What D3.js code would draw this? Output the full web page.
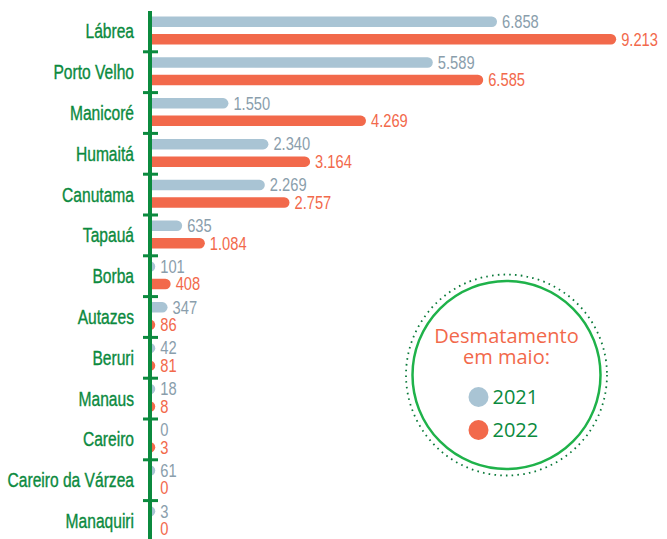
<!DOCTYPE html>
<html>
<head>
<meta charset="utf-8">
<script src="https://cdn.jsdelivr.net/npm/d3@7"></script>
<style>
  html, body { margin: 0; padding: 0; background: #fff; }
  #chart { width: 667px; height: 539px; }
</style>
</head>
<body>
<div id="chart"></div>
<script>
// Desmatamento em maio, 2021 x 2022, por município
const categories = ['Lábrea','Porto Velho','Manicoré','Humaitá','Canutama','Tapauá','Borba','Autazes','Beruri','Manaus','Careiro','Careiro da Várzea','Manaquiri'];
const years = ['2021','2022'];
const values2021 = [6858, 5589, 1550, 2340, 2269, 635, 101, 347, 42, 18, 0, 61, 3];
const values2022 = [9213, 6585, 4269, 3164, 2757, 1084, 408, 86, 81, 8, 3, 0, 0];

(function(){
  const w = 667, h = 539;
  // no condensed face installed: squeeze Liberation Sans horizontally
  const narrow = '"Liberation Sans", Arial, sans-serif';
  const green = '#0b8a3e', blue = '#a9c4d4', red = '#f2694b', blueText = '#8a9eac';

  const fmt = d3.formatLocale({decimal: ',', thousands: '.', grouping: [3], currency: ['', '']}).format(',d');
  const color = d3.scaleOrdinal().domain(years).range([blue, red]);
  const textColor = d3.scaleOrdinal().domain(years).range([blueText, red]);

  const svg = d3.select('#chart').append('svg').attr('width', w).attr('height', h);

  const axisX = 150;
  const x = d3.scaleLinear().domain([0, 10000]).range([axisX, axisX + 506]);
  const y = d3.scaleBand().domain(categories).range([11, 11 + 13 * 40.8]);
  const ySub = d3.scaleBand().domain(years).range([2, 37]);
  const barH = 10.5, r = barH / 2;

  const rows = categories.map((c, i) => ({cat: c, vals: [
    {year: '2021', value: values2021[i]},
    {year: '2022', value: values2022[i]}
  ]}));

  // bars with rounded right end
  function barPath(v) {
    const end = Math.max(x(v), axisX + r);
    const body = end - r;
    return `M${axisX},${-r}H${body}A${r},${r} 0 0 1 ${body},${r}H${axisX}Z`;
  }

  const g = svg.selectAll('g.row').data(rows).enter().append('g')
    .attr('class', 'row')
    .attr('transform', d => `translate(0,${y(d.cat)})`);

  const item = g.selectAll('g.item').data(d => d.vals).enter().append('g')
    .attr('transform', d => `translate(0,${ySub(d.year) + ySub.bandwidth() / 2})`);

  item.filter(d => d.value > 0).append('path')
    .attr('d', d => barPath(d.value))
    .attr('fill', d => color(d.year));

  item.append('text')
    .attr('transform', d => `translate(${Math.max(x(d.value), axisX + r) + 5},0) scale(0.84,1)`)
    .attr('dy', '0.36em')
    .attr('font-family', narrow)
    .attr('font-size', '17.5px')
    .attr('fill', d => textColor(d.year))
    .text(d => fmt(d.value));

  // category labels
  svg.selectAll('text.cat').data(categories).enter().append('text')
    .attr('class', 'cat')
    .attr('transform', d => `translate(134,${y(d) + y.bandwidth() / 2}) scale(0.8,1)`)
    .attr('dy', '0.36em')
    .attr('text-anchor', 'end')
    .attr('font-family', narrow)
    .attr('font-size', '19.5px')
    .attr('fill', green)
    .attr('stroke', green).attr('stroke-width', 0.35)
    .text(d => d);

  // axis line + ticks
  svg.append('line').attr('x1', axisX).attr('x2', axisX).attr('y1', 11).attr('y2', h)
    .attr('stroke', green).attr('stroke-width', 4);
  svg.selectAll('line.tick').data(categories.slice(1)).enter().append('line')
    .attr('class', 'tick')
    .attr('x1', axisX - 7).attr('x2', axisX + 8)
    .attr('y1', d => y(d)).attr('y2', d => y(d))
    .attr('stroke', green).attr('stroke-width', 3);

  // legend
  const lg = svg.append('g').attr('transform', 'translate(506.5,375)');
  lg.append('circle').attr('r', 100.5).attr('fill', 'none')
    .attr('stroke', '#0b7a3a').attr('stroke-width', 1.8).attr('stroke-dasharray', '1.6 4.2');
  lg.append('circle').attr('r', 94).attr('fill', '#fff')
    .attr('stroke', '#1fb24a').attr('stroke-width', 2.5);
  lg.append('text').attr('y', -32).attr('text-anchor', 'middle')
    .attr('font-family', '"Open Sans", sans-serif').attr('font-size', '20px').attr('fill', red)
    .text('Desmatamento');
  lg.append('text').attr('y', -11).attr('text-anchor', 'middle')
    .attr('font-family', '"Open Sans", sans-serif').attr('font-size', '20px').attr('fill', red)
    .text('em maio:');
  const li = lg.selectAll('g.li').data(years).enter().append('g')
    .attr('transform', (d, i) => `translate(0,${22 + i * 33})`);
  li.append('circle').attr('cx', -28).attr('r', 10).attr('fill', d => color(d));
  li.append('text').attr('x', -14).attr('dy', '0.36em')
    .attr('font-family', '"Open Sans", sans-serif').attr('font-size', '20px').attr('fill', green)
    .text(d => d);
})();
</script>
</body>
</html>
